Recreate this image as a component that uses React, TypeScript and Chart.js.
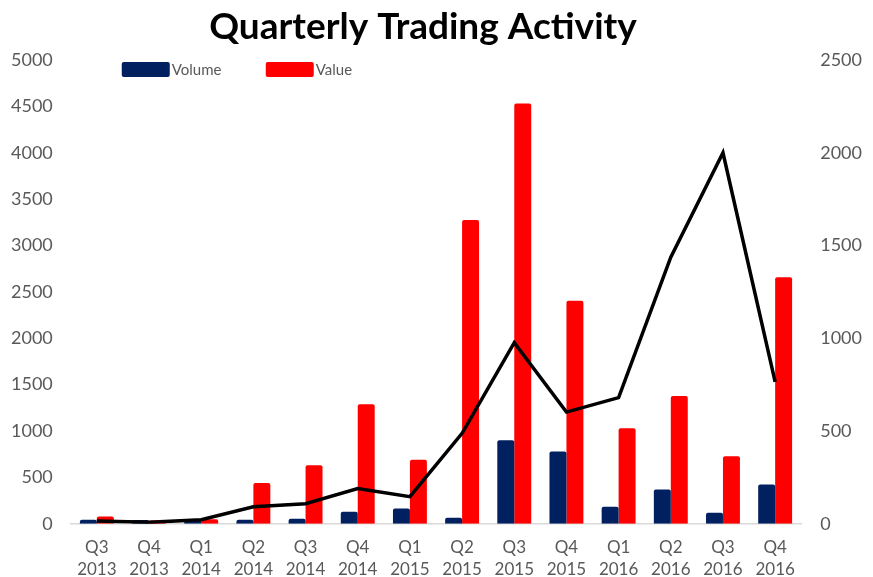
import React, { useEffect, useRef } from "react";
import { Chart, registerables } from "chart.js";

Chart.register(...registerables);

const TITLE = "Quarterly Trading Activity";
const categories: string[][] = [
  ["Q3", "2013"], ["Q4", "2013"], ["Q1", "2014"], ["Q2", "2014"], ["Q3", "2014"],
  ["Q4", "2014"], ["Q1", "2015"], ["Q2", "2015"], ["Q3", "2015"], ["Q4", "2015"],
  ["Q1", "2016"], ["Q2", "2016"], ["Q3", "2016"], ["Q4", "2016"],
];
const volume = [45, 40, 40, 45, 55, 130, 165, 65, 900, 780, 184, 369, 119, 423];
const value = [80, 35, 50, 440, 630, 1290, 690, 3275, 4530, 2405, 1030, 1377, 727, 2657];
const trend = [15, 8, 22, 92, 108, 190, 146, 488, 976, 602, 680, 1437, 2000, 765];

const FONT = "Lato, 'Open Sans', sans-serif";
const GRAY = "#595959";

const titleLegendPlugin = {
  id: "titleLegend",
  afterDraw(chart: any) {
    const ctx = chart.ctx;
    const area = chart.chartArea;
    ctx.save();
    // title
    ctx.font = `bold 37px ${FONT}`;
    ctx.fillStyle = "#000000";
    ctx.textAlign = "center";
    ctx.textBaseline = "alphabetic";
    ctx.fillText(TITLE, 423, 39);
    // legend
    const items = chart.data.datasets.filter((d: any) => d.type === "bar");
    ctx.font = `15px ${FONT}`;
    ctx.textBaseline = "middle";
    ctx.textAlign = "left";
    items.forEach((d: any, i: number) => {
      const x = area.left + 51 + i * 144;
      const y = area.top + 2;
      ctx.fillStyle = d.backgroundColor;
      ctx.beginPath();
      if ((ctx as any).roundRect) ctx.roundRect(x, y, 48, 15, 2);
      else ctx.rect(x, y, 48, 15);
      ctx.fill();
      ctx.fillStyle = GRAY;
      ctx.fillText(d.label, x + 50, y + 8);
    });
    ctx.restore();
  },
};

const plain = (v: any) => String(v);

export default function App() {
  const ref = useRef<HTMLCanvasElement | null>(null);
  useEffect(() => {
    if (!ref.current) return;
    const chart = new Chart(ref.current, {
      type: "bar",
      data: {
        labels: categories,
        datasets: [
          {
            type: "line",
            label: "Trend",
            data: trend,
            yAxisID: "y1",
            borderColor: "#000000",
            borderWidth: 3.5,
            pointRadius: 0,
            tension: 0,
            order: 0,
          } as any,
          {
            type: "bar",
            label: "Volume",
            data: volume,
            yAxisID: "y",
            backgroundColor: "#002060",
            borderRadius: { topLeft: 2, topRight: 2 },
            borderSkipped: "bottom",
            categoryPercentage: 0.65,
            barPercentage: 1,
            order: 1,
          },
          {
            type: "bar",
            label: "Value",
            data: value,
            yAxisID: "y",
            backgroundColor: "#FF0000",
            borderRadius: { topLeft: 2, topRight: 2 },
            borderSkipped: "bottom",
            categoryPercentage: 0.65,
            barPercentage: 1,
            order: 1,
          },
        ],
      },
      options: {
        animation: false,
        responsive: true,
        maintainAspectRatio: false,
        layout: { padding: { left: 0, right: 11, top: 60, bottom: 0 } },
        plugins: {
          legend: { display: false },
          tooltip: { enabled: false },
          title: { display: false },
        },
        scales: {
          x: {
            grid: { display: false, drawTicks: true, tickLength: 17 },
            border: { display: true, color: "#D9D9D9", width: 1.5 },
            ticks: {
              color: GRAY,
              font: { family: FONT, size: 17, lineHeight: 1.3 },
              padding: -4,
              maxRotation: 0,
              autoSkip: false,
            },
          },
          y: {
            position: "left",
            min: 0,
            max: 5000,
            grid: { display: false, drawTicks: true, tickLength: 7 },
            border: { display: false },
            ticks: {
              stepSize: 500,
              color: GRAY,
              font: { family: FONT, size: 18 },
              padding: 11,
              callback: plain,
            },
          },
          y1: {
            position: "right",
            min: 0,
            max: 2500,
            grid: { display: false, drawTicks: true, tickLength: 19 },
            border: { display: false },
            ticks: {
              stepSize: 500,
              color: GRAY,
              font: { family: FONT, size: 18 },
              padding: 0,
              callback: plain,
            },
          },
        },
      },
      plugins: [titleLegendPlugin],
    });
    return () => chart.destroy();
  }, []);
  return (
    <div style={{ position: "absolute", left: 0, top: 0, width: 873, height: 577, background: "#fff" }}>
      <canvas ref={ref} />
    </div>
  );
}
